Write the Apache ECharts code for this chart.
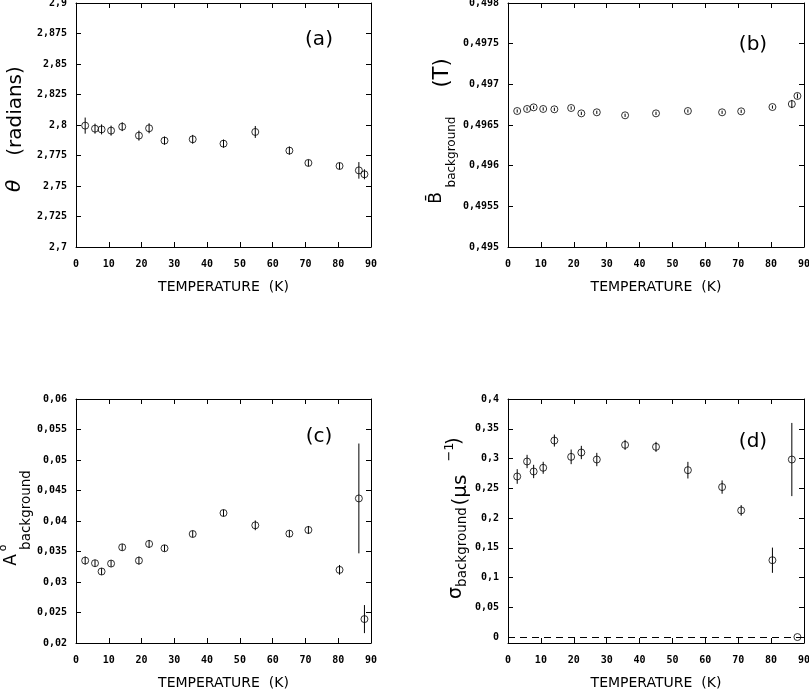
<!DOCTYPE html>
<html>
<head>
<meta charset="utf-8">
<script src="https://cdn.jsdelivr.net/npm/echarts@6/dist/echarts.min.js"></script>
<style>
html,body{margin:0;padding:0;background:#fff;}
#chart{width:809px;height:690px;}
</style>
</head>
<body>
<div id="chart"></div>
<script>
// ---- data ----
const temperature = [2.8, 5.8, 7.8, 10.7, 14.1, 19.2, 22.3, 27.0, 35.6, 45.0, 54.7, 65.1, 70.9, 80.4, 86.3, 88.0];

const theta    = [2.7995, 2.7970, 2.7964, 2.7954, 2.7986, 2.7913, 2.7973, 2.7872, 2.7883, 2.7847, 2.7943, 2.7790, 2.7689, 2.7664, 2.7628, 2.7596];
const thetaErr = [0.0066, 0.0041, 0.0041, 0.0041, 0.0036, 0.0041, 0.0041, 0.0033, 0.0036, 0.0033, 0.0049, 0.0033, 0.0027, 0.0027, 0.0068, 0.0041];

const bField    = [0.496672, 0.496697, 0.496717, 0.496697, 0.496693, 0.496709, 0.496643, 0.496656, 0.496619, 0.496643, 0.496672, 0.496656, 0.496668, 0.496721, 0.496758, 0.496857];
const bFieldErr = [0.00002, 0.00002, 0.00002, 0.00002, 0.00002, 0.00002, 0.00002, 0.00002, 0.00002, 0.00002, 0.00002, 0.00002, 0.00002, 0.00002, 0.00005, 0.00003];

const asym    = [0.03351, 0.03308, 0.03172, 0.03302, 0.03569, 0.03351, 0.03624, 0.03553, 0.03787, 0.04131, 0.03929, 0.03793, 0.03853, 0.03199, 0.0437, 0.02392];
const asymErr = [0.00065, 0.00055, 0.00055, 0.00055, 0.00055, 0.00065, 0.00065, 0.00055, 0.00055, 0.00055, 0.0008, 0.00055, 0.00065, 0.0008, 0.009, 0.0023];

const sigma    = [0.2698, 0.2950, 0.2782, 0.2844, 0.3302, 0.3028, 0.3101, 0.2983, 0.3229, 0.3196, 0.2804, 0.2520, 0.2128, 0.1291, 0.2983, 0.0];
const sigmaErr = [0.0123, 0.0112, 0.0112, 0.0101, 0.0101, 0.0123, 0.0112, 0.0112, 0.0084, 0.0084, 0.0140, 0.0112, 0.0089, 0.0212, 0.0615, 0.0];

const sigmaTicks = [0, 0.05, 0.1, 0.15, 0.2, 0.25, 0.3, 0.35, 0.4];
const panelLetters = ['(a)', '(b)', '(c)', '(d)'];
const xName = 'TEMPERATURE  (K)';

// ---- layout / style ----
const grids = [
  {left: 76, top: 3, width: 295, height: 244, outerBoundsMode: 'none', containLabel: false},
  {left: 508, top: 3, width: 296, height: 244, outerBoundsMode: 'none', containLabel: false},
  {left: 76, top: 399, width: 295, height: 244, outerBoundsMode: 'none', containLabel: false},
  {left: 508, top: 399, width: 296, height: 244, outerBoundsMode: 'none', containLabel: false}
];

const FF = 'DejaVu Sans';
const fmt = v => String(+(+v).toFixed(5)).replace('.', ',');
const tickFont = {color: '#000', fontFamily: 'DejaVu Sans Mono', fontSize: 10, fontWeight: 'bold'};
const lineSt = {color: '#000', width: 1};

const panels = [
  {ys: theta, es: thetaErr, min: 2.7, max: 2.9, interval: 0.025},
  {ys: bField, es: bFieldErr, min: 0.495, max: 0.498, interval: 0.0005},
  {ys: asym, es: asymErr, min: 0.02, max: 0.06, interval: 0.005},
  {ys: sigma, es: sigmaErr, min: -0.01, max: 0.4, custom: sigmaTicks}
];

const xAxes = [], yAxes = [], series = [];
panels.forEach((p, i) => {
  xAxes.push({
    gridIndex: i, type: 'value', min: 0, max: 90, interval: 10, position: 'bottom',
    name: xName, nameLocation: 'middle', nameGap: 33, nameMoveOverlap: false,
    nameTextStyle: {color: '#000', fontSize: 14, fontFamily: FF},
    axisLine: {show: true, onZero: false, lineStyle: lineSt},
    axisTick: {show: true, inside: true, length: 5, lineStyle: lineSt},
    axisLabel: Object.assign({margin: 12, formatter: v => String(v)}, tickFont),
    splitLine: {show: false}
  });
  xAxes.push({
    gridIndex: i, type: 'value', min: 0, max: 90, interval: 10, position: 'top',
    axisLine: {show: true, onZero: false, lineStyle: lineSt},
    axisTick: {show: true, inside: true, length: 5, lineStyle: lineSt},
    axisLabel: {show: false}, splitLine: {show: false}
  });
  const yl = {
    gridIndex: i, type: 'value', min: p.min, max: p.max, position: 'left',
    axisLine: {show: true, onZero: false, lineStyle: lineSt},
    axisTick: {show: true, inside: true, length: 5, lineStyle: lineSt},
    axisLabel: Object.assign({margin: 9, formatter: fmt}, tickFont),
    splitLine: {show: false}
  };
  const yr = {
    gridIndex: i, type: 'value', min: p.min, max: p.max, position: 'right',
    axisLine: {show: true, onZero: false, lineStyle: lineSt},
    axisTick: {show: true, inside: true, length: 5, lineStyle: lineSt},
    axisLabel: {show: false}, splitLine: {show: false}
  };
  if (p.custom) {
    yl.axisTick.customValues = p.custom;
    yl.axisLabel.customValues = p.custom;
    yr.axisTick.customValues = p.custom;
  } else {
    yl.interval = p.interval;
    yr.interval = p.interval;
  }
  yAxes.push(yl, yr);

  const errData = temperature.map((t, k) => [t, p.ys[k], p.es[k]]);
  const ptData = temperature.map((t, k) => [t, p.ys[k]]);
  series.push({
    type: 'custom', xAxisIndex: 2 * i, yAxisIndex: 2 * i,
    data: errData, encode: {x: 0, y: 1}, silent: true, z: 3,
    renderItem: (params, api) => {
      const x = api.value(0), y = api.value(1), e = api.value(2);
      const a = api.coord([x, y - e]);
      const b = api.coord([x, y + e]);
      return {type: 'line', shape: {x1: a[0], y1: a[1], x2: b[0], y2: b[1]},
              style: {stroke: '#000', lineWidth: 1}};
    }
  });
  const sc = {
    type: 'scatter', xAxisIndex: 2 * i, yAxisIndex: 2 * i, data: ptData,
    symbol: 'circle', symbolSize: 7, silent: true, z: 4,
    itemStyle: {color: 'rgba(0,0,0,0)', borderColor: '#000', borderWidth: 1}
  };
  if (i === 3) {
    sc.markLine = {
      silent: true, symbol: ['none', 'none'], label: {show: false},
      lineStyle: {color: '#000', width: 1, type: [7, 5]},
      data: [{yAxis: 0}]
    };
  }
  series.push(sc);
});

// ---- text: panel letters and rotated y-axis titles ----
const letterPos = [[319, 40], [753, 45], [319, 437], [753, 442]];
const graphic = panelLetters.map((s, i) => ({
  type: 'text', x: letterPos[i][0], y: letterPos[i][1], silent: true,
  style: {text: s, fill: '#000', font: '20px "DejaVu Sans"', textAlign: 'center', textVerticalAlign: 'middle'}
}));

// rotated text piece: (x = centre across the text line, y = centre along it)
const vtext = (text, x, y, size, style) => ({
  type: 'text', x: x, y: y, rotation: Math.PI / 2, silent: true,
  style: {text: text, fill: '#000', font: (style || '') + ' ' + size + 'px "DejaVu Sans"',
          textAlign: 'center', textVerticalAlign: 'middle'}
});

graphic.push(
  // (a) theta (radians)
  vtext('(radians)', 16, 111, 20),
  vtext('θ', 15, 186, 20, 'italic'),
  // (b) B-bar background (T)
  vtext('B\u0304', 437, 198, 17),
  vtext('background', 452, 152, 12),
  vtext('(T)', 443, 73, 21),
  // (c) A0 background
  vtext('A', 12, 560, 17),
  vtext('o', 3, 548, 11),
  vtext('background', 26.5, 510, 13.5),
  // (d) sigma background (mu s^-1)
  vtext('σ', 456, 593, 19),
  vtext('background', 462.5, 547, 13.5),
  vtext('(μs', 460.5, 490, 20),
  vtext('−1', 449.5, 452, 13),
  vtext(')', 455, 441, 20)
);

const chart = echarts.init(document.getElementById('chart'), null, {renderer: 'canvas'});
chart.setOption({
  animation: false,
  backgroundColor: '#fff',
  grid: grids,
  xAxis: xAxes,
  yAxis: yAxes,
  series: series,
  graphic: graphic
});
</script>
</body>
</html>
